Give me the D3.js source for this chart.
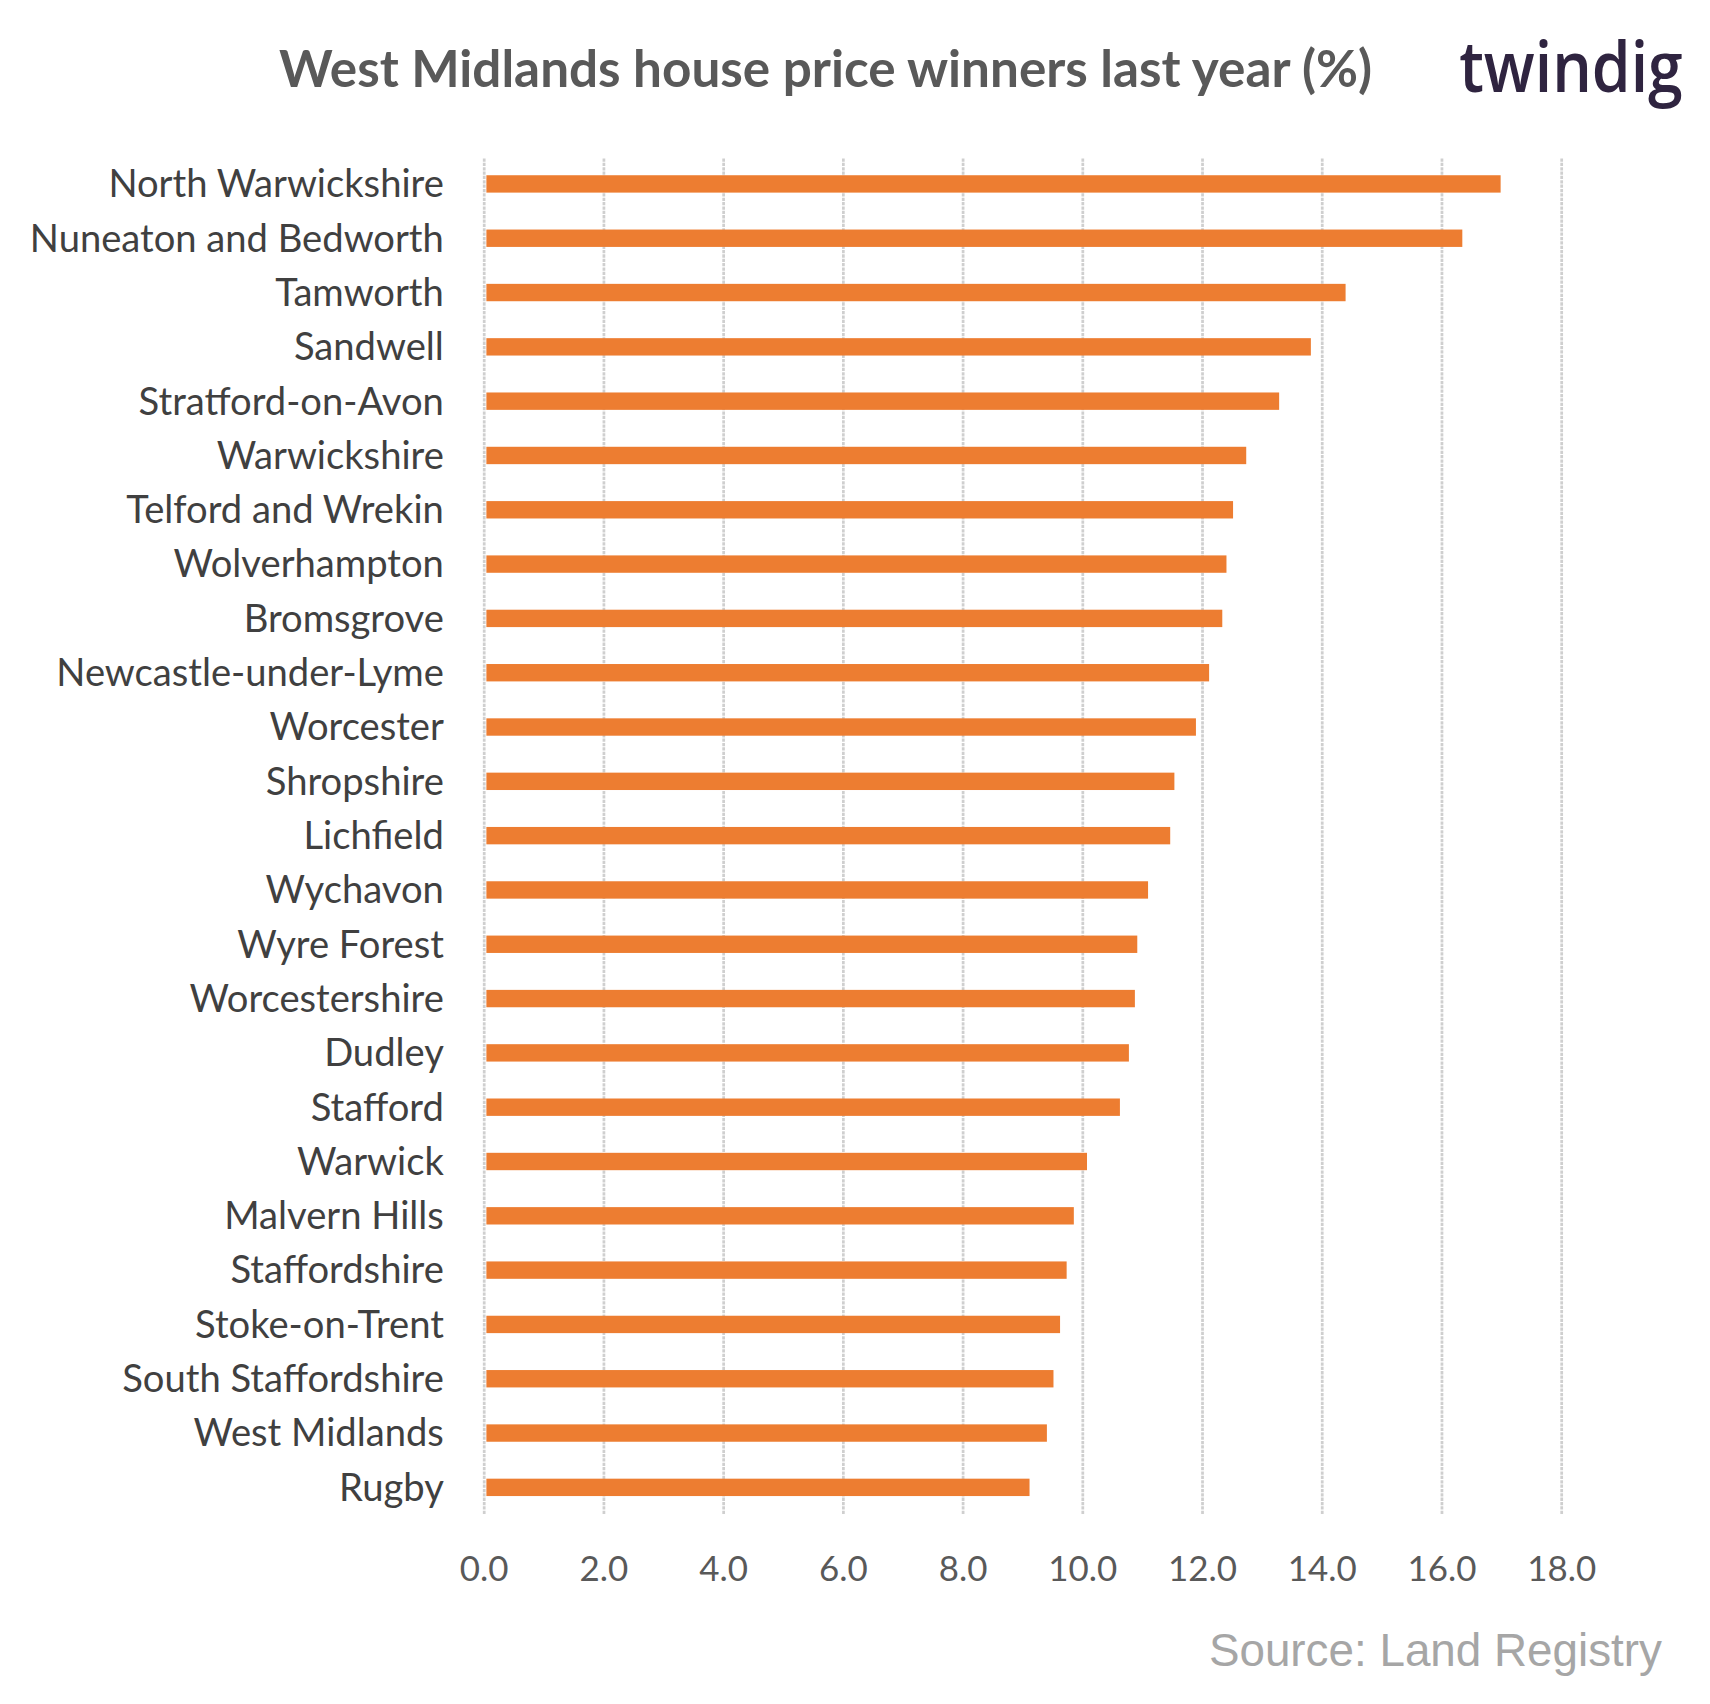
<!DOCTYPE html>
<html><head><meta charset="utf-8">
<script src="https://cdn.jsdelivr.net/npm/d3@7"></script>
<style>body{margin:0;background:#fff}svg{display:block}</style>
</head><body><svg id="c" width="1710" height="1704" viewBox="0 0 1568 1562"></svg>
<script>
const categories = ["North Warwickshire","Nuneaton and Bedworth","Tamworth","Sandwell","Stratford-on-Avon","Warwickshire","Telford and Wrekin","Wolverhampton","Bromsgrove","Newcastle-under-Lyme","Worcester","Shropshire","Lichfield","Wychavon","Wyre Forest","Worcestershire","Dudley","Stafford","Warwick","Malvern Hills","Staffordshire","Stoke-on-Trent","South Staffordshire","West Midlands","Rugby"];
const values = [16.98,16.34,14.39,13.81,13.28,12.73,12.51,12.40,12.33,12.11,11.89,11.53,11.46,11.09,10.91,10.87,10.77,10.62,10.07,9.85,9.73,9.62,9.51,9.40,9.11];
const ticks = [0,2,4,6,8,10,12,14,16,18];

const svg = d3.select("#c");
const x = d3.scaleLinear().domain([0,18]).range([444,1432]);
const y = d3.scaleBand().domain(categories).range([143.5,1388.5]).paddingInner(0.68).paddingOuter(0.34);

svg.append("g").selectAll("line").data(ticks).join("line")
  .attr("x1",d=>x(d)).attr("x2",d=>x(d)).attr("y1",145).attr("y2",1388)
  .attr("stroke","#cfcfcf").attr("stroke-width",2.5).attr("stroke-dasharray","3,1");

svg.append("g").selectAll("rect").data(values).join("rect")
  .attr("x",x(0)+2).attr("y",(d,i)=>y(categories[i]))
  .attr("width",d=>x(d)-x(0)-2).attr("height",y.bandwidth())
  .attr("fill","#ed7d31");

svg.append("g").selectAll("text").data(categories).join("text")
  .attr("x",407).attr("y",d=>y(d)+y.bandwidth()/2).attr("dy","0.35em")
  .attr("text-anchor","end").attr("font-family","Lato, 'Open Sans', sans-serif")
  .attr("font-size",35).attr("fill","#404040").text(d=>d);

svg.append("g").selectAll("text").data(ticks).join("text")
  .attr("x",d=>x(d)).attr("y",1438).attr("dy","0.35em").attr("text-anchor","middle")
  .attr("font-family","Lato, 'Open Sans', sans-serif").attr("font-size",32).attr("fill","#595959")
  .text(d=>d.toFixed(1));

svg.append("text").attr("x",757).attr("y",63).attr("dy","0.35em").attr("text-anchor","middle")
  .attr("font-family","Lato, 'Open Sans', sans-serif").attr("font-weight","bold").attr("font-size",47)
  .attr("fill","#595959").text("West Midlands  house price winners last year (%)");

svg.append("text").attr("x",1338).attr("y",84)
  .attr("font-family","'Open Sans', Lato, sans-serif").attr("font-weight","600").attr("font-size",64)
  .attr("fill","#2f2440").attr("textLength",205).attr("lengthAdjust","spacingAndGlyphs").text("twindig");

svg.append("text").attr("x",1524).attr("y",1513).attr("dy","0.35em").attr("text-anchor","end")
  .attr("font-family","'Liberation Sans', Arial, sans-serif").attr("font-size",42)
  .attr("fill","#a6a6a6").text("Source: Land Registry");
</script></body></html>
